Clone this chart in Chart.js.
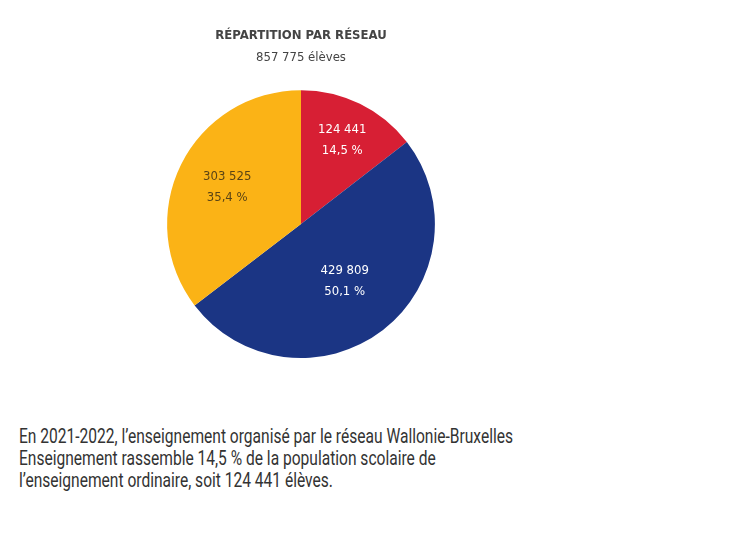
<!DOCTYPE html>
<html>
<head>
<meta charset="utf-8">
<script src="https://cdn.jsdelivr.net/npm/chart.js@4/dist/chart.umd.min.js"></script>
<style>
  html, body { margin: 0; padding: 0; background: #ffffff; }
  body { width: 730px; height: 537px; overflow: hidden; position: relative; font-family: "DejaVu Sans Condensed", sans-serif; }
  #wrap { position: absolute; left: 0; top: 0; width: 602px; height: 372px; }
  #note { position: absolute; left: 19px; top: 425px; margin: 0; font-family: "Roboto", sans-serif; font-size: 20px; line-height: 22px; color: #333333; white-space: nowrap; transform-origin: 0 0; }
</style>
</head>
<body>
<div id="wrap"><canvas id="c"></canvas></div>
<p id="note"><span id="l1">En 2021-2022, l’enseignement organisé par le réseau Wallonie-Bruxelles</span><br>Enseignement rassemble 14,5 % de la population scolaire de<br>l’enseignement ordinaire, soit 124 441 élèves.</p>
<script>
const categories = ["Wallonie-Bruxelles Enseignement", "Réseau 2", "Réseau 3"];
const values = [124441, 429809, 303525];
const valueLabels = ["124 441", "429 809", "303 525"];
const percentLabels = ["14,5 %", "50,1 %", "35,4 %"];
const colors = ["#D71F34", "#1B3584", "#FBB316"];
const labelColors = ["#ffffff", "#ffffff", "#5a4415"];
const labelRadius = [0.70, 0.535, 0.615];

// fit the note's first line to the reference width
(function () {
  const l1 = document.getElementById("l1");
  const w = l1.getBoundingClientRect().width;
  const s = 494 / w;
  document.getElementById("note").style.transform = "scaleX(" + s + ")";
})();

const FONT = '"DejaVu Sans Condensed", "DejaVu Sans", sans-serif';

const sliceLabels = {
  id: "sliceLabels",
  afterDatasetsDraw(chart) {
    const ctx = chart.ctx;
    const meta = chart.getDatasetMeta(0);
    ctx.save();
    ctx.font = '13px ' + FONT;
    ctx.textAlign = "center";
    ctx.textBaseline = "middle";
    meta.data.forEach((arc, i) => {
      const p = arc.getProps(["x", "y", "startAngle", "endAngle", "outerRadius"], true);
      const mid = (p.startAngle + p.endAngle) / 2;
      const r = p.outerRadius * labelRadius[i];
      const x = p.x + Math.cos(mid) * r;
      const y = p.y + Math.sin(mid) * r;
      ctx.fillStyle = labelColors[i];
      ctx.fillText(valueLabels[i], x, y - 10.5);
      ctx.fillText(percentLabels[i], x, y + 10.5);
    });
    ctx.restore();
  }
};

new Chart(document.getElementById("c"), {
  type: "pie",
  data: {
    labels: categories,
    datasets: [{
      data: values,
      backgroundColor: colors,
      borderWidth: 0
    }]
  },
  options: {
    responsive: true,
    maintainAspectRatio: false,
    animation: false,
    layout: { padding: { top: 0, bottom: 14 } },
    plugins: {
      legend: { display: false },
      tooltip: { enabled: false },
      title: {
        display: true,
        text: "RÉPARTITION PAR RÉSEAU",
        color: "#444444",
        font: { family: FONT, size: 13, weight: "bold" },
        padding: { top: 28, bottom: 4 }
      },
      subtitle: {
        display: true,
        text: "857 775 élèves",
        color: "#444444",
        font: { family: FONT, size: 13 },
        padding: { top: 2, bottom: 25 }
      }
    }
  },
  plugins: [sliceLabels]
});
</script>
</body>
</html>
